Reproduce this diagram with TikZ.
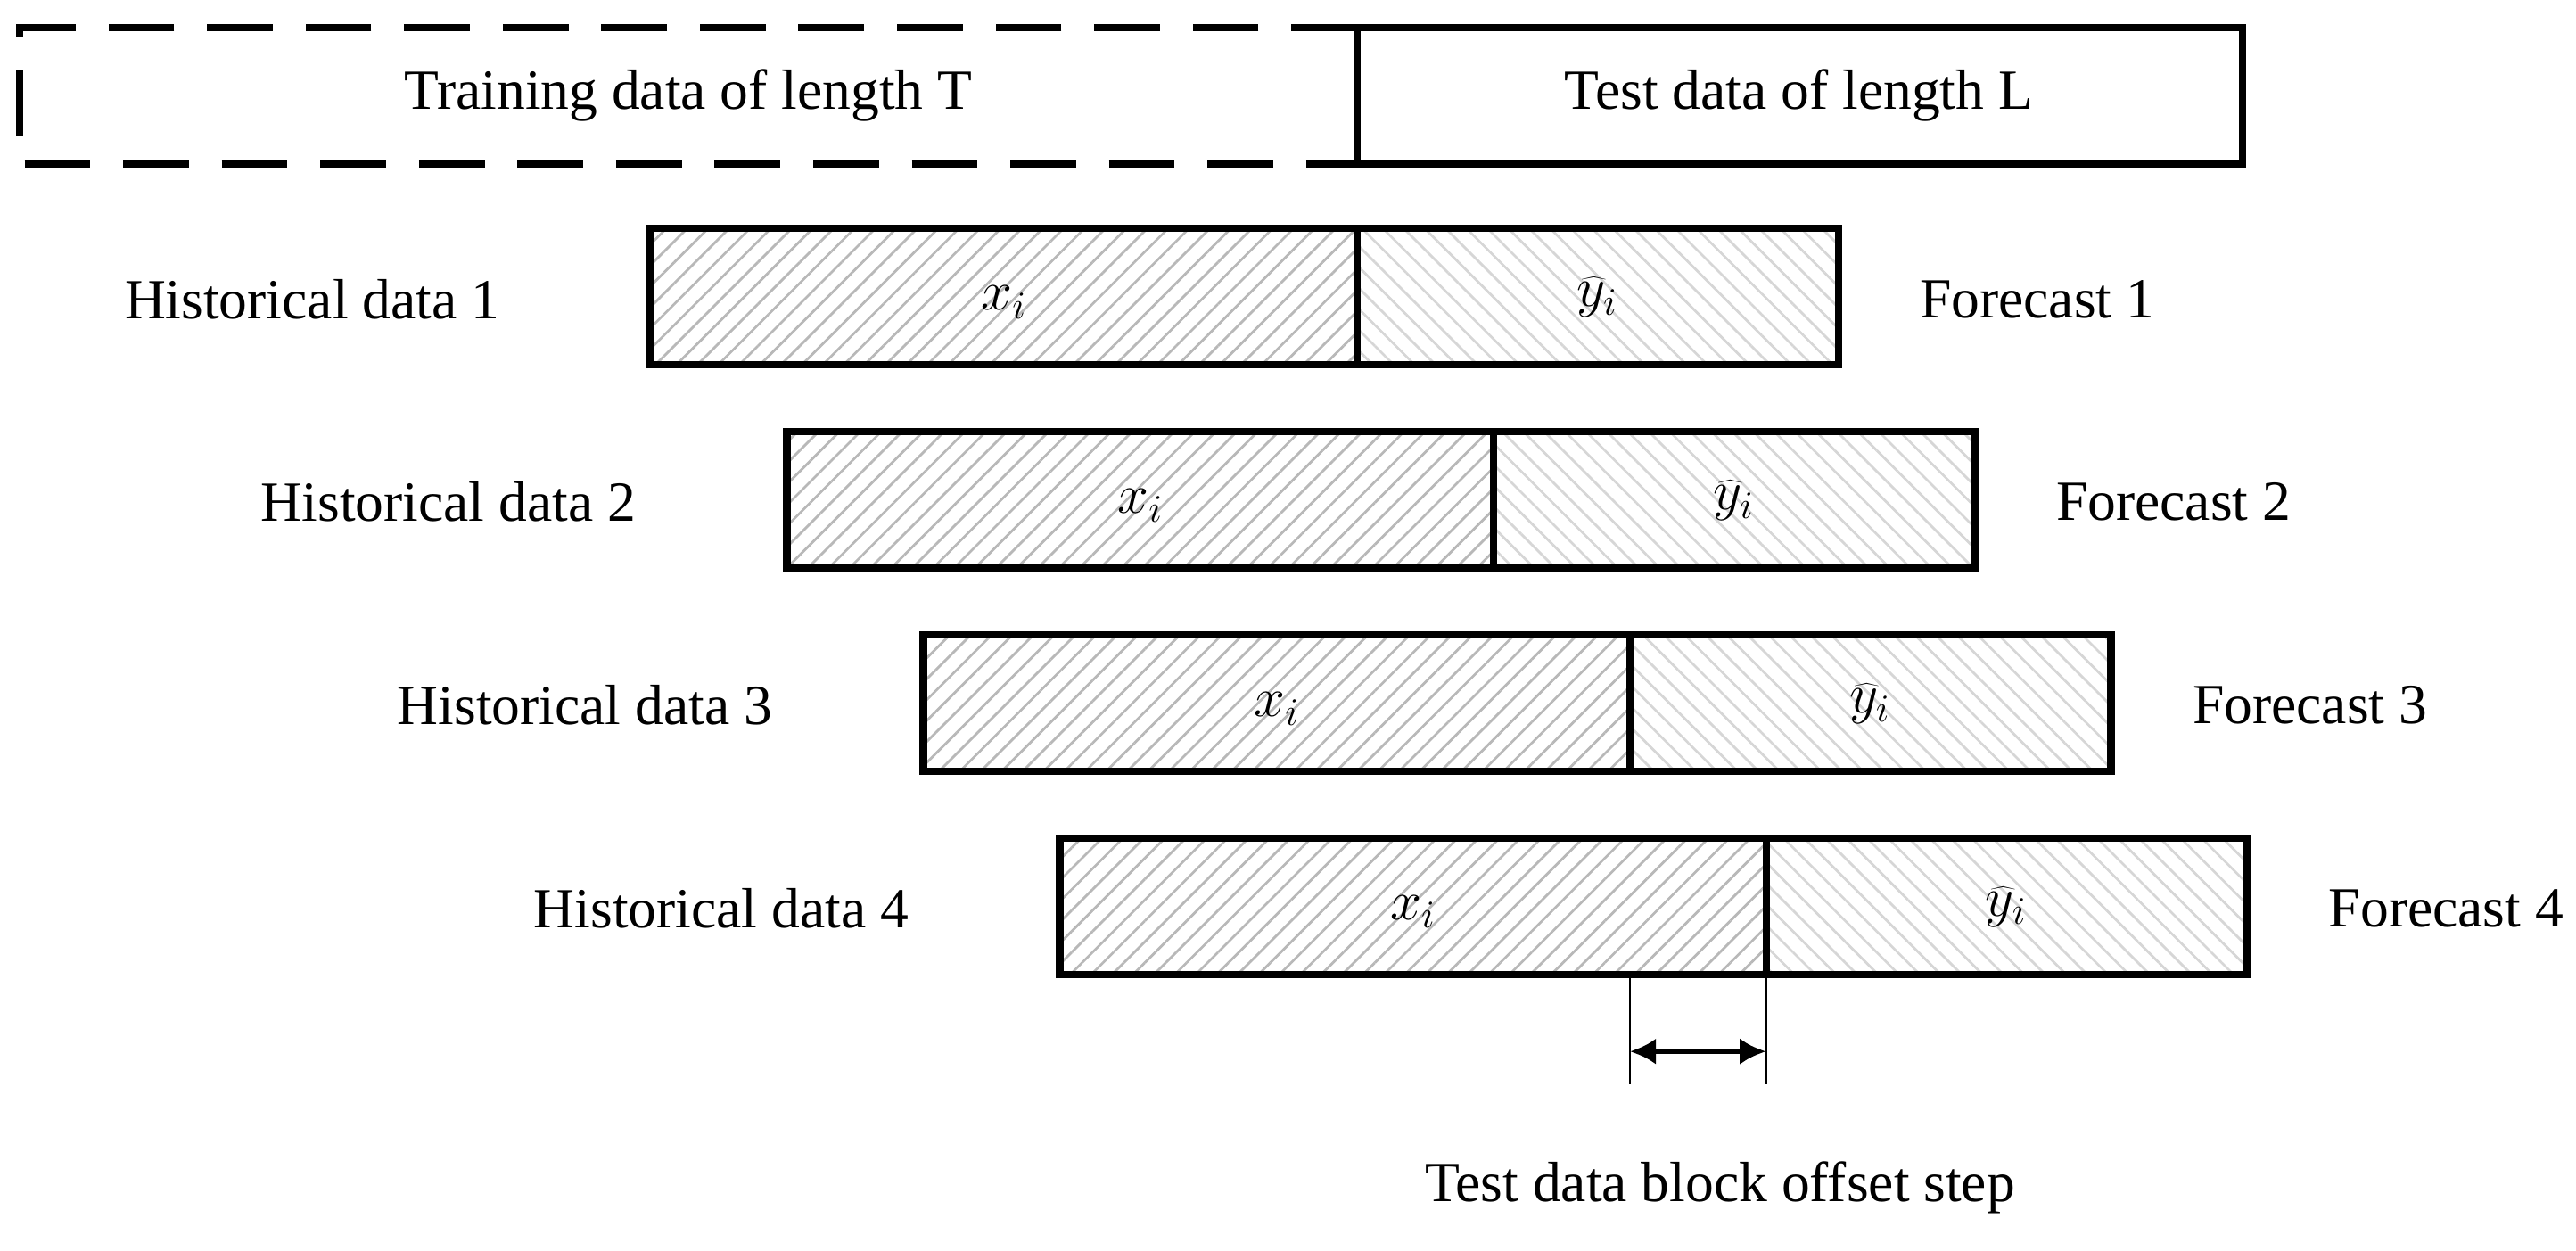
\RequirePackage{fix-cm}
\documentclass[tikz,border=0pt]{standalone}
\usepackage{fontspec}
\setmainfont{Liberation Serif}
\usetikzlibrary{patterns.meta,arrows.meta}
\begin{document}
\begin{tikzpicture}[x=1pt,y=-1pt,
  box/.style={draw=black,line width=4.5pt},
  hl/.style={box,pattern={Lines[distance=9pt,angle=45,line width=1.5pt]},pattern color=black!28},
  hr/.style={box,pattern={Lines[distance=9pt,angle=-45,line width=1.5pt]},pattern color=black!16},
  lab/.style={font=\fontsize{34.5}{40}\selectfont},
  mlab/.style={font=\fontsize{34}{40}\selectfont}]
\useasboundingbox (0,0) rectangle (1568,761);
\draw[box,dash pattern=on 40pt off 20pt] (826,17) -- (12,17) -- (12,100) -- (826,100);
\node[lab] (train) at (419,58) {Training data of length T};
\draw[box] (826,17) rectangle (1365,100);
\node[lab] (test) at (1095,58) {Test data of length L};
\foreach \i/\o in {1/0,2/83,3/166,4/249}{
  \pgfmathsetmacro{\yy}{139+123.7*(\i-1)}
  \draw[hl] (396+\o,\yy) rectangle (826+\o,\yy+83);
  \draw[hr] (826+\o,\yy) rectangle (1119+\o,\yy+83);
  \node[mlab] (x\i) at (611+\o,\yy+45) {$x_i$};
  \node[mlab] (y\i) at (972+\o,\yy+42) {$\widehat{y}_i$};
  \node[lab] (h\i) at (190+\o,\yy+43) {Historical data \i};
  \node[lab] (f\i) at (1240+\o,\yy+43) {Forecast \i};
}
\coordinate (a1) at (992,595); \coordinate (a2) at (992,660);
\coordinate (b1) at (1075,595); \coordinate (b2) at (1075,660);
\draw[line width=1pt] (a1) -- (a2) (b1) -- (b2);
\draw[line width=3pt,{Latex[length=16pt,width=16pt]}-{Latex[length=16pt,width=16pt]}] (992,640) -- (1075,640);
\node[lab] (off) at (1047,723) {Test data block offset step};
\end{tikzpicture}
\end{document}
